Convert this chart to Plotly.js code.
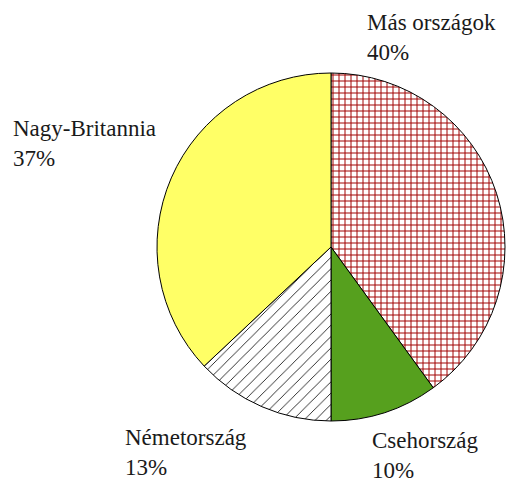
<!DOCTYPE html>
<html><head><meta charset="utf-8">
<script src="https://cdn.plot.ly/plotly-3.0.1.min.js"></script>
<style>
html,body{margin:0;padding:0;background:#fff}
.modebar-container{display:none!important}
#chart .annotation-text{font-family:"Liberation Serif","Times New Roman",serif!important}
#prime{position:absolute;left:0;top:0;font-family:"Liberation Serif",serif;font-size:23px;color:#fff}
</style>
</head><body>
<span id="prime">&#8203;</span>
<div id="chart" style="width:516px;height:482px"></div>
<script>
const categories = ['Más országok', 'Csehország', 'Németország', 'Nagy-Britannia'];
const shares = [40, 10, 13, 37];
const fillColors = ['#ffffff', '#56a01e', '#ffffff', '#ffff66'];
const patternShapes = ['+', '', '/', ''];
const patternColors = ['#a00000', '#56a01e', '#000000', '#ffff66'];
// label anchor pixels (left, top of text block)
const labelPos = [[365, 8], [370, 426], [123, 423], [11, 114]];

const W = 516, H = 482;
const cx = 331, cy = 247, r = 174;

const annotations = categories.map((c, i) => ({
  text: c + '<br>' + shares[i] + '%',
  xref: 'paper', yref: 'paper',
  x: labelPos[i][0] / W, y: 1 - labelPos[i][1] / H,
  xanchor: 'left', yanchor: 'top', align: 'left',
  showarrow: false,
  font: {family: 'Liberation Serif', size: 23, color: '#1a1a1a'}
}));

Plotly.newPlot('chart', [{
  type: 'pie',
  labels: categories,
  values: shares,
  sort: false,
  direction: 'clockwise',
  rotation: 0,
  textinfo: 'none',
  domain: {x: [(cx - r) / W, (cx + r) / W], y: [(H - cy - r) / H, (H - cy + r) / H]},
  marker: {
    colors: fillColors,
    line: {color: '#000000', width: 1},
    pattern: {shape: patternShapes, fgcolor: patternColors, bgcolor: fillColors, size: [6, 8, 8, 8], solidity: [0.3, 0.1, 0.1, 0.1], fillmode: 'replace'}
  }
}], {
  width: W, height: H,
  margin: {l: 0, r: 0, t: 0, b: 0},
  showlegend: false,
  paper_bgcolor: '#ffffff',
  annotations: annotations
}).then(function () {
  document.getElementById('chart').setAttribute('data-ready', '1');
});
</script>
</body></html>
